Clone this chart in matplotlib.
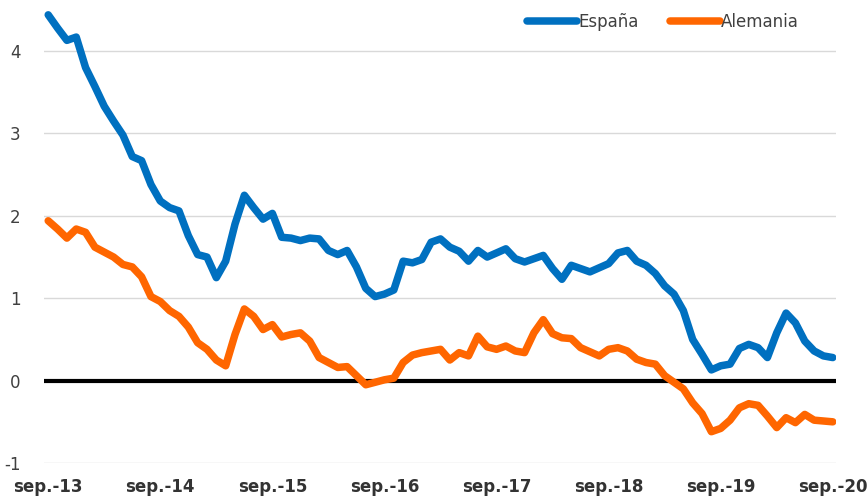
import numpy as np
import matplotlib.pyplot as plt

# monthly 10y yields, sep-2013 .. sep-2020
espana = [4.44, 4.28, 4.13, 4.17, 3.80, 3.57, 3.33, 3.15, 2.98, 2.72,
          2.67, 2.38, 2.18, 2.10, 2.06, 1.76, 1.53, 1.50, 1.25, 1.45,
          1.90, 2.25, 2.10, 1.96, 2.03, 1.74, 1.73, 1.70, 1.73, 1.72,
          1.58, 1.53, 1.58, 1.38, 1.12, 1.02, 1.05, 1.10, 1.45, 1.43,
          1.47, 1.68, 1.72, 1.62, 1.57, 1.45, 1.58, 1.50, 1.55, 1.60,
          1.48, 1.44, 1.48, 1.52, 1.36, 1.23, 1.40, 1.36, 1.32, 1.37,
          1.42, 1.55, 1.58, 1.45, 1.40, 1.30, 1.15, 1.05, 0.85, 0.50,
          0.32, 0.13, 0.18, 0.20, 0.39, 0.44, 0.40, 0.28, 0.58, 0.82,
          0.70, 0.48, 0.36, 0.30, 0.28]
alemania = [1.94, 1.84, 1.73, 1.84, 1.80, 1.62, 1.56, 1.50, 1.41, 1.38,
            1.26, 1.02, 0.96, 0.85, 0.78, 0.65, 0.46, 0.38, 0.25, 0.18,
            0.56, 0.87, 0.78, 0.62, 0.68, 0.53, 0.56, 0.58, 0.48, 0.28,
            0.22, 0.16, 0.17, 0.06, -0.05, -0.02, 0.01, 0.03, 0.22, 0.31,
            0.34, 0.36, 0.38, 0.25, 0.34, 0.30, 0.54, 0.41, 0.38, 0.42,
            0.36, 0.34, 0.58, 0.74, 0.57, 0.52, 0.51, 0.40, 0.35, 0.30,
            0.38, 0.40, 0.36, 0.26, 0.22, 0.20, 0.06, -0.02, -0.10, -0.27,
            -0.40, -0.62, -0.58, -0.48, -0.33, -0.28, -0.30, -0.43, -0.57, -0.45,
            -0.51, -0.41, -0.48, -0.49, -0.50]
x_labels = ['sep.-13', 'sep.-14', 'sep.-15', 'sep.-16', 'sep.-17', 'sep.-18', 'sep.-19', 'sep.-20']
y_ticks = [-1, 0, 1, 2, 3, 4]

months = np.arange(len(espana))

fig = plt.figure(figsize=(8.68, 4.96), dpi=100)
ax = fig.add_axes([0.0507, 0.0665, 0.9125, 0.9335])

for y in y_ticks:
    if y != 0:
        ax.axhline(y, color='#d9d9d9', lw=1, zorder=0)
ax.axhline(0, color='black', lw=3, zorder=1)

ax.plot(months, espana, color='#0070c0', lw=5.4, solid_joinstyle='round',
        solid_capstyle='round', label='España', zorder=3)
ax.plot(months, alemania, color='#ff6600', lw=5.4, solid_joinstyle='round',
        solid_capstyle='round', label='Alemania', zorder=3)

ax.set_xlim(-0.45, 84.35)
ax.set_ylim(-1, 4.62)
ax.set_xticks(np.arange(0, 85, 12))
ax.set_xticklabels(x_labels, fontweight='bold', fontsize=12, color='#333333')
ax.set_yticks(y_ticks)
ax.set_yticklabels([str(v) for v in y_ticks], fontsize=12, color='#404040')
ax.tick_params(axis='both', length=0)
ax.tick_params(axis='y', pad=17)
ax.tick_params(axis='x', pad=11)
for s in ax.spines.values():
    s.set_visible(False)

leg = ax.legend(loc='upper right', bbox_to_anchor=(0.972, 1.005), ncol=2, frameon=False,
                fontsize=12, handlelength=3.0, handletextpad=0.05, columnspacing=1.9)
for t in leg.get_texts():
    t.set_color('#404040')

fig.savefig('out.png', dpi=100)
